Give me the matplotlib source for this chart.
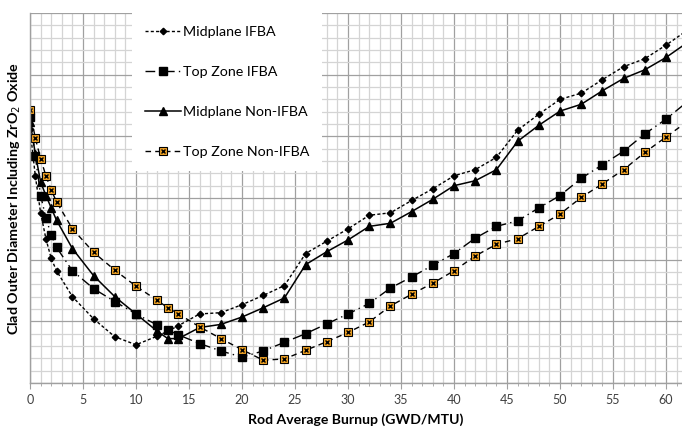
import matplotlib.pyplot as plt
from matplotlib.legend_handler import HandlerTuple
from matplotlib.ticker import MultipleLocator

ORANGE = "#F2A324"
MAJOR_GRID = "#A0A0A0"
MINOR_GRID = "#D4D4D4"

# burnup points (GWD/MTU)
burnup = [0, 0.5, 1, 1.5, 2, 2.5, 4, 6, 8, 10, 12, 13, 14, 16, 18, 20, 22, 24,
          26, 28, 30, 32, 34, 36, 38, 40, 42, 44, 46, 48, 50, 52, 54, 56, 58,
          60, 62]

# clad OD (arbitrary grid units, no y labels on the original)
midplane_ifba = [20.6, 16.8, 13.8, 11.7, 10.1, 9.1, 7.0, 5.2, 3.75, 3.1, 3.8,
                 4.2, 4.65, 5.6, 5.7, 6.35, 7.1, 7.9, 10.5, 11.5, 12.5, 13.6,
                 13.8, 14.8, 15.75, 16.8, 17.3, 18.3, 20.5, 21.8, 23.0, 23.5,
                 24.6, 25.65, 26.3, 27.4, 28.6]
top_zone_ifba = [21.6, 18.4, 15.2, 13.4, 12.0, 11.0, 9.1, 7.65, 6.6, 5.6, 4.7,
                 4.3, 3.9, 3.2, 2.6, 2.1, 2.6, 3.3, 4.0, 4.8, 5.6, 6.45, 7.7,
                 8.6, 9.55, 10.5, 11.75, 12.7, 13.15, 14.2, 15.2, 16.6, 17.7,
                 18.8, 20.2, 21.4, 22.8]
midplane_non_ifba = [21.2, 18.6, 16.3, 15.2, 14.2, 13.2, 10.9, 8.7, 7.0, 5.6,
                     4.2, 3.6, 3.6, 4.5, 4.75, 5.35, 6.1, 6.9, 9.6, 10.65, 11.6,
                     12.7, 12.95, 13.9, 14.9, 16.0, 16.4, 17.3, 19.6, 20.9,
                     22.05, 22.6, 23.7, 24.7, 25.4, 26.4, 27.6]
top_zone_non_ifba = [22.1, 19.85, 18.2, 16.8, 15.65, 14.7, 12.5, 10.6, 9.15,
                     7.85, 6.7, 6.1, 5.6, 4.55, 3.6, 2.7, 1.85, 1.95, 2.65,
                     3.35, 4.1, 4.95, 6.25, 7.2, 8.1, 9.1, 10.3, 11.25, 11.7,
                     12.7, 13.7, 15.05, 16.15, 17.3, 18.7, 19.95, 21.2]

plt.rcParams["font.family"] = ["Lato", "DejaVu Sans"]

fig = plt.figure(figsize=(6.82, 4.29), dpi=100)
ax = fig.add_axes([30 / 682, 46 / 429, 652 / 682, 370 / 429])

l1, = ax.plot(burnup, midplane_ifba, color="black", lw=1.0,
              linestyle=(0, (2.2, 1.6)), marker="D", ms=3.3)
l2, = ax.plot(burnup, top_zone_ifba, color="black", lw=1.0,
              linestyle=(0, (7, 3, 1, 3)), marker="s", ms=5.2)
l3, = ax.plot(burnup, midplane_non_ifba, color="black", lw=1.1,
              linestyle="-", marker="^", ms=5.2)
l4, = ax.plot(burnup, top_zone_non_ifba, color="black", lw=1.0,
              linestyle=(0, (4, 3)), marker="s", ms=5.6,
              markerfacecolor=ORANGE, markeredgecolor="black",
              markeredgewidth=0.8)
l4x, = ax.plot(burnup, top_zone_non_ifba, linestyle="none", marker="x",
               ms=3.4, color="black", mew=1.0)

ax.set_xlim(0, 61.5)
ax.set_ylim(0, 30)
ax.xaxis.set_major_locator(MultipleLocator(5))
ax.xaxis.set_minor_locator(MultipleLocator(1))
ax.yaxis.set_major_locator(MultipleLocator(5))
ax.yaxis.set_minor_locator(MultipleLocator(1))
ax.set_yticklabels([])
ax.tick_params(axis="y", which="both", length=0)
ax.tick_params(axis="x", which="major", length=4, color=MAJOR_GRID,
               labelsize=9, labelcolor="#404040", pad=4)
ax.tick_params(axis="x", which="minor", length=2.5, color=MAJOR_GRID)

ax.grid(which="minor", color=MINOR_GRID, lw=0.9)
ax.grid(which="major", color=MAJOR_GRID, lw=0.9)
ax.set_axisbelow(True)
for side in ["top", "right"]:
    ax.spines[side].set_visible(False)
for side in ["left", "bottom"]:
    ax.spines[side].set_color(MAJOR_GRID)
    ax.spines[side].set_linewidth(1.0)

ax.set_xlabel("Rod Average Burnup (GWD/MTU)", fontsize=10.1, fontweight="bold",
              labelpad=5)
ax.set_ylabel("Clad Outer Diameter Including ZrO$_2$ Oxide", fontsize=10.3,
              fontweight="bold")
ax.yaxis.set_label_coords(-0.011, 0.5)

leg = ax.legend([l1, l2, l3, (l4, l4x)],
                ["Midplane IFBA", "Top Zone IFBA", "Midplane Non-IFBA",
                 "Top Zone Non-IFBA"],
                handler_map={tuple: HandlerTuple(ndivide=1, pad=0)},
                loc="upper left", bbox_to_anchor=(0.157, 1.0),
                frameon=True, fancybox=False, framealpha=1, edgecolor="white",
                fontsize=10.3, labelspacing=1.96, handlelength=2.5,
                handletextpad=0.15, borderpad=0.9, borderaxespad=0)
leg.get_frame().set_linewidth(0)

fig.savefig("out.png", dpi=100)
